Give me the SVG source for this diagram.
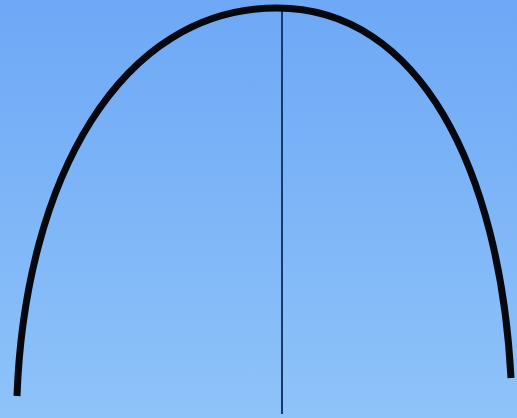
<svg xmlns="http://www.w3.org/2000/svg" width="517" height="418" viewBox="0 0 517 418">
<defs>
<linearGradient id="bg" x1="0" y1="0" x2="0" y2="1">
<stop offset="0" stop-color="#6ea8f6"/>
<stop offset="1" stop-color="#8ec3f9"/>
</linearGradient>
</defs>
<style>
.arch{fill:none;stroke:#05080f;stroke-width:7;stroke-linecap:butt}
.axis{fill:none;stroke:#173a6c;stroke-width:2}
</style>
<rect x="0" y="0" width="517" height="418" fill="url(#bg)"/>
<line class="axis" x1="282" y1="9" x2="282" y2="414"/>
<path class="arch" d="M17,396 C25,180 120,8 277,8 C420,8 500,170 511,378"/>
</svg>
